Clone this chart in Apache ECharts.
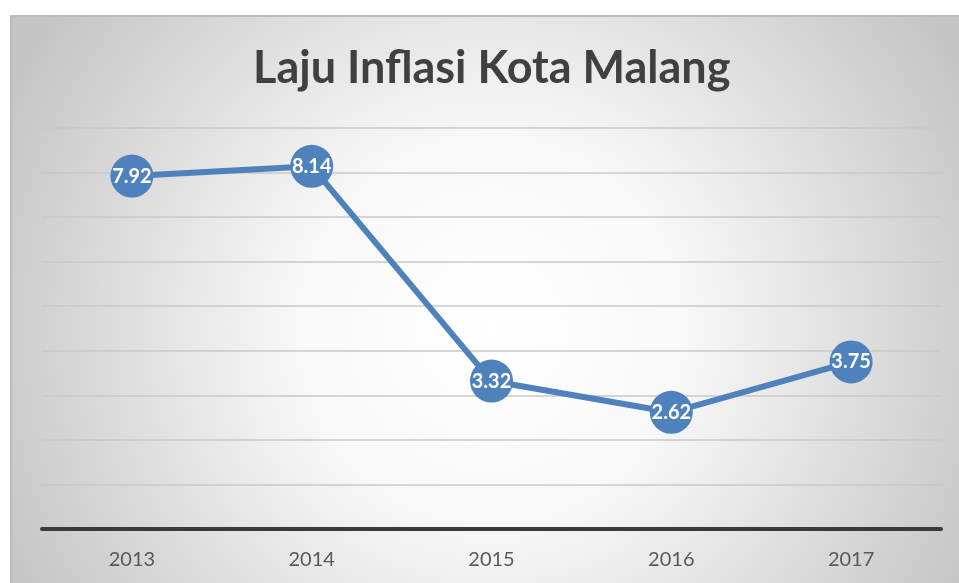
<!DOCTYPE html>
<html><head><meta charset="utf-8">
<script src="https://cdn.jsdelivr.net/npm/echarts@6/dist/echarts.min.js"></script>
<style>html,body{margin:0;padding:0;background:#fff;}#c{width:959px;height:583px;}</style>
</head><body><div id="c"></div>
<script>
var categories = ['2013','2014','2015','2016','2017'];
var inflation = [7.92, 8.14, 3.32, 2.62, 3.75];
var chart = echarts.init(document.getElementById('c'));
chart.setOption({
  animation: false,
  graphic: [{
    type: 'rect', left: 10, top: 15, z: -10,
    shape: {width: 960, height: 570},
    style: {
      fill: {type: 'radial', x: 0.5, y: 0.55, r: 0.95, colorStops: [
        {offset: 0, color: '#ffffff'}, {offset: 0.35, color: '#f8f8f8'}, {offset: 1, color: '#c4c4c4'}]},
      stroke: '#bcbcbc', lineWidth: 2
    }
  }],
  title: {
    text: 'Laju Inflasi Kota Malang', left: 248, top: 41,
    textStyle: {fontFamily: 'Lato', fontWeight: 'bold', fontSize: 45, color: '#404040'}
  },
  grid: {left: 42, right: 18, top: 128, bottom: 54},
  xAxis: {
    type: 'category', data: categories, boundaryGap: true,
    axisLine: {lineStyle: {color: '#3a3a3a', width: 4}},
    axisTick: {show: false},
    axisLabel: {fontFamily: 'Lato', fontSize: 20, color: '#595959', margin: 21}
  },
  yAxis: {
    type: 'value', min: 0, max: 9, interval: 1,
    axisLabel: {show: false}, axisLine: {show: false}, axisTick: {show: false},
    splitLine: {lineStyle: {color: '#c8c8c8', width: 1.5}}
  },
  series: [{
    type: 'line', data: inflation,
    symbol: 'circle', symbolSize: 43,
    lineStyle: {color: '#4f81bd', width: 6},
    itemStyle: {color: '#4f81bd'},
    label: {show: true, position: 'inside', color: '#ffffff', fontFamily: 'Lato', fontWeight: 'bold', fontSize: 20,
      formatter: function(p){ return p.value.toFixed(2); }}
  }]
});
</script></body></html>
